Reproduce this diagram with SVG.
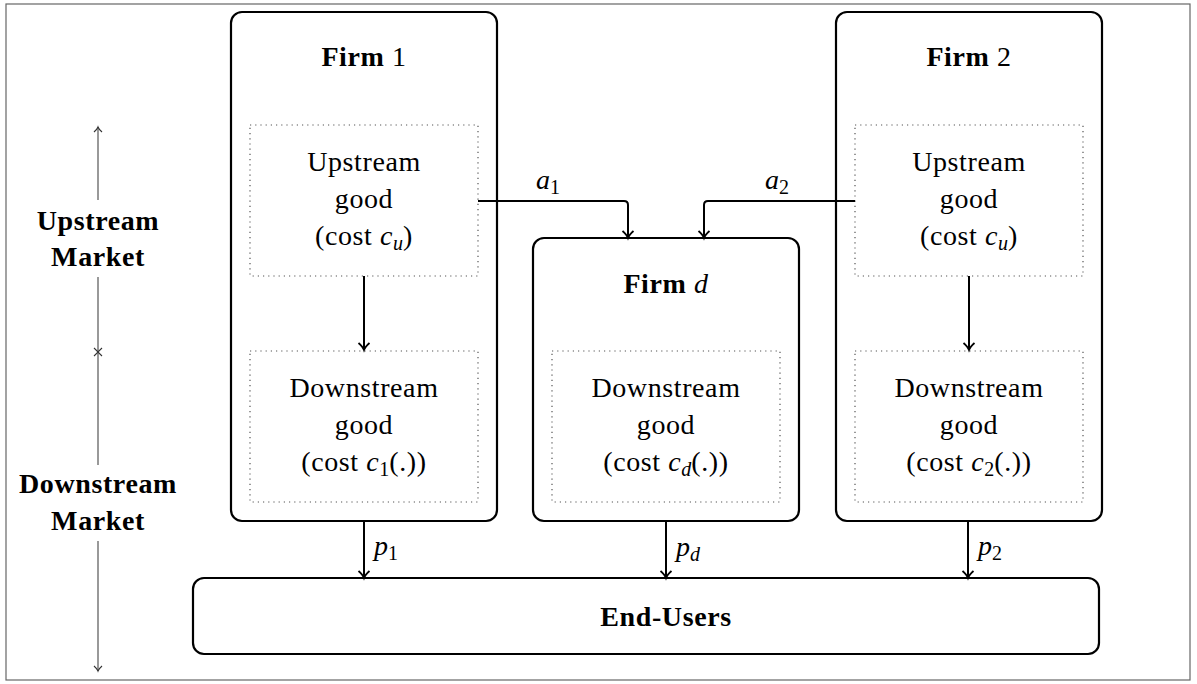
<svg xmlns="http://www.w3.org/2000/svg" width="1197" height="684" viewBox="0 0 1197 684">
<style>
text{font-family:"Liberation Serif","Times New Roman",serif;fill:#000}
.t{font-size:28px;text-anchor:middle;letter-spacing:0.6px}
.b{font-size:28px;font-weight:bold;text-anchor:middle;letter-spacing:0.6px}
.s{font-size:20px;font-style:normal;letter-spacing:0}
.i{font-style:italic}
.box{fill:#fff;stroke:#000;stroke-width:2.2}
.dot{fill:none;stroke:#555;stroke-width:1.2;stroke-dasharray:1.2 4}
.con{fill:none;stroke:#000;stroke-width:2}
.ax{fill:none;stroke:#555;stroke-width:1.2}
</style>
<defs>
<marker id="arr" markerUnits="userSpaceOnUse" markerWidth="14" markerHeight="14" refX="0" refY="0" viewBox="-8 -7 10 14" orient="auto" overflow="visible">
<path d="M-7,-5.5 Q-3,-1 0,0 Q-3,1 -7,5.5" fill="none" stroke="#000" stroke-width="1.8"/>
</marker>
<marker id="arrs" markerUnits="userSpaceOnUse" markerWidth="10" markerHeight="10" refX="0" refY="0" viewBox="-6 -5 8 10" orient="auto" overflow="visible">
<path d="M-5,-4 Q-2,-0.7 0,0 Q-2,0.7 -5,4" fill="none" stroke="#333" stroke-width="1.1"/>
</marker>
</defs>
<rect x="6" y="4" width="1184" height="676" fill="#fff" stroke="#666" stroke-width="1.2"/>

<g id="axis">
<path class="ax" d="M98,200 V127" marker-end="url(#arrs)"/>
<path class="ax" d="M98,277 V352"/>
<path class="ax" d="M98,352 V465"/>
<path class="ax" d="M98,541 V671" marker-end="url(#arrs)"/>
<path d="M94,348 L98,352 L102,348 M94,356 L98,352 L102,356" fill="none" stroke="#333" stroke-width="1.1"/>
<text class="b" x="98" y="230">Upstream</text>
<text class="b" x="98" y="266">Market</text>
<text class="b" x="98" y="493">Downstream</text>
<text class="b" x="98" y="530">Market</text>
</g>

<g id="firm1">
<rect class="box" x="231" y="12" width="266" height="509" rx="11"/>
<text class="b" x="364" y="66">Firm <tspan font-weight="normal">1</tspan></text>
<rect class="dot" x="250" y="125" width="228" height="151"/>
<text class="t" x="364" y="171">Upstream</text>
<text class="t" x="364" y="208">good</text>
<text class="t" x="364" y="245">(cost <tspan class="i">c</tspan><tspan class="s i" dy="5">u</tspan><tspan dy="-5">)</tspan></text>
<rect class="dot" x="250" y="351" width="228" height="151"/>
<text class="t" x="364" y="397">Downstream</text>
<text class="t" x="364" y="434">good</text>
<text class="t" x="364" y="471">(cost <tspan class="i">c</tspan><tspan class="s" dy="5">1</tspan><tspan dy="-5">(.))</tspan></text>
</g>

<g id="firmd">
<rect class="box" x="533" y="238" width="266" height="283" rx="11"/>
<text class="b" x="666" y="293">Firm <tspan font-weight="normal" font-style="italic">d</tspan></text>
<rect class="dot" x="552" y="351" width="228" height="151"/>
<text class="t" x="666" y="397">Downstream</text>
<text class="t" x="666" y="434">good</text>
<text class="t" x="666" y="471">(cost <tspan class="i">c</tspan><tspan class="s i" dy="5">d</tspan><tspan dy="-5">(.))</tspan></text>
</g>

<g id="firm2">
<rect class="box" x="836" y="12" width="266" height="509" rx="11"/>
<text class="b" x="969" y="66">Firm <tspan font-weight="normal">2</tspan></text>
<rect class="dot" x="855" y="125" width="228" height="151"/>
<text class="t" x="969" y="171">Upstream</text>
<text class="t" x="969" y="208">good</text>
<text class="t" x="969" y="245">(cost <tspan class="i">c</tspan><tspan class="s i" dy="5">u</tspan><tspan dy="-5">)</tspan></text>
<rect class="dot" x="855" y="351" width="228" height="151"/>
<text class="t" x="969" y="397">Downstream</text>
<text class="t" x="969" y="434">good</text>
<text class="t" x="969" y="471">(cost <tspan class="i">c</tspan><tspan class="s" dy="5">2</tspan><tspan dy="-5">(.))</tspan></text>
</g>

<g id="endusers">
<rect class="box" x="193" y="578" width="906" height="76" rx="11"/>
<text class="b" x="666" y="626">End-Users</text>
</g>

<g id="connectors">
<path class="con" d="M364,276 V350" marker-end="url(#arr)"/>
<path class="con" d="M969,276 V350" marker-end="url(#arr)"/>
<path class="con" d="M478,201 H624 Q628,201 628,205 V238" marker-end="url(#arr)"/>
<path class="con" d="M855,201 H708 Q704,201 704,205 V238" marker-end="url(#arr)"/>
<path class="con" d="M364,521 V578" marker-end="url(#arr)"/>
<path class="con" d="M666,521 V578" marker-end="url(#arr)"/>
<path class="con" d="M968,521 V578" marker-end="url(#arr)"/>
<text class="i" font-size="28" x="536" y="189">a<tspan class="s" dy="5">1</tspan></text>
<text class="i" font-size="28" x="765" y="189">a<tspan class="s" dy="5">2</tspan></text>
<text class="i" font-size="28" x="374" y="555">p<tspan class="s" dy="5">1</tspan></text>
<text class="i" font-size="28" x="676" y="556">p<tspan class="s i" dy="5">d</tspan></text>
<text class="i" font-size="28" x="978" y="555">p<tspan class="s" dy="5">2</tspan></text>
</g>
</svg>
